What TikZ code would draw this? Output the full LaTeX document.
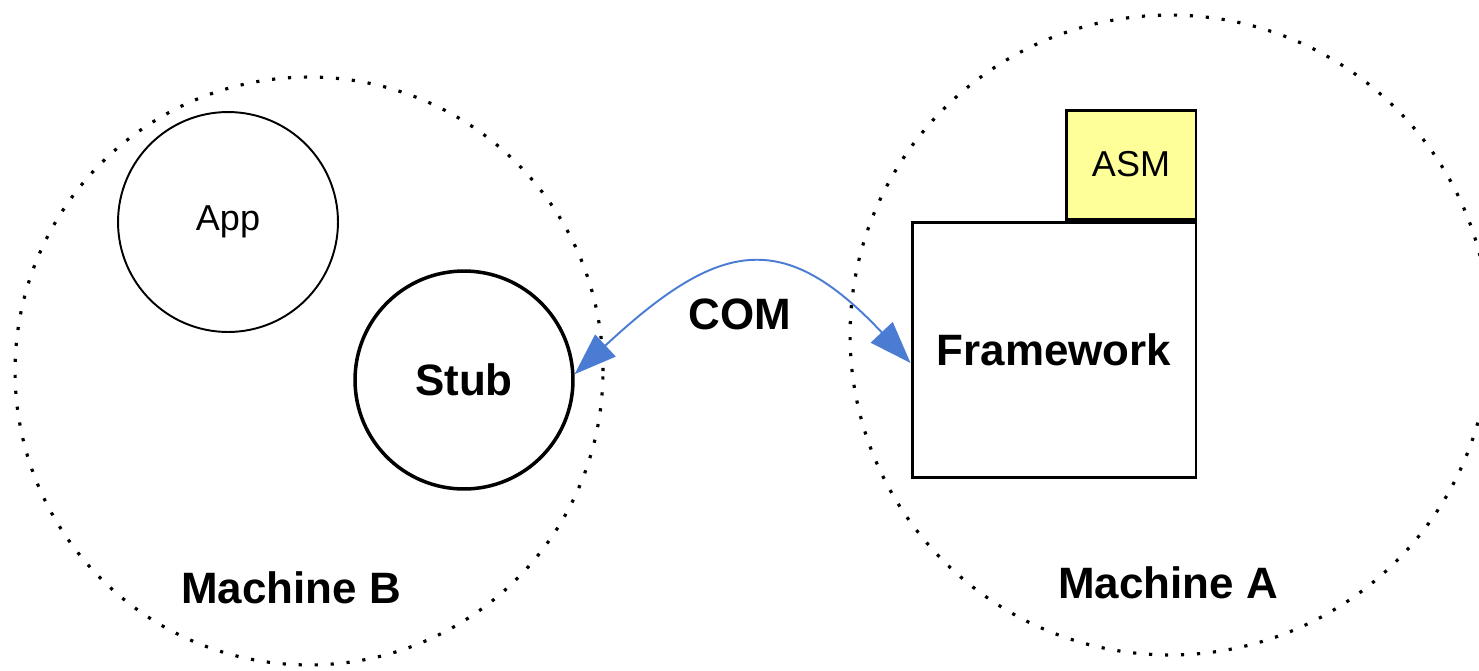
\documentclass[tikz,border=0pt]{standalone}
\usepackage{fontspec}
\setmainfont{Liberation Sans}
\usetikzlibrary{arrows.meta,positioning}
\definecolor{comblue}{RGB}{74,124,212}
\definecolor{asmyellow}{RGB}{255,255,153}

\begin{document}
\begin{tikzpicture}[x=0.02cm, y=-0.02cm, >=Stealth,
    machine/.style={circle, draw, line width=1.8pt, dash pattern=on 1.8pt off 7.3pt},
    bigtxt/.style={font=\fontsize{25}{30}\selectfont\bfseries},
    smalltxt/.style={font=\fontsize{20.5}{24}\selectfont}]
    \useasboundingbox (0,0) rectangle (1479,670);

    % 两台机器 (虚线圆)
    \node[machine, minimum size=11.76cm] (machB) at (309,371) {};
    \node[machine, minimum size=12.8cm] (machA) at (1170,335) {};
    \node[bigtxt] (labB) at (291,588) {Machine B};
    \node[bigtxt] (labA) at (1168,583) {Machine A};

    % 左侧: App 和 Stub
    \node[circle, draw, line width=1.1pt, minimum size=4.4cm, smalltxt] (app) at (228,222) {App};
    \node[circle, draw, line width=2pt, minimum size=4.36cm, bigtxt] (stub) at (464,380) {Stub};

    % 右侧: Framework 和 ASM
    \node[draw, line width=1.7pt, minimum width=5.68cm, minimum height=5.12cm, bigtxt] (fw) at (1054,350) {Framework};
    \node[draw, line width=1.7pt, fill=asmyellow, minimum width=2.6cm, minimum height=2.18cm,
          anchor=south east, smalltxt] (asm) at (fw.north east) {ASM};

    % COM 连接
    \draw[comblue, line width=1.1pt, {Triangle[length=24pt, width=17pt]}-{Triangle[length=24pt, width=17pt]}]
        (stub.3) .. controls +(145,-135) and +(-127,-135) .. ([yshift=-0.26cm]fw.west);
    \node[bigtxt] (com) at (740,314) {COM};
\end{tikzpicture}
\end{document}
